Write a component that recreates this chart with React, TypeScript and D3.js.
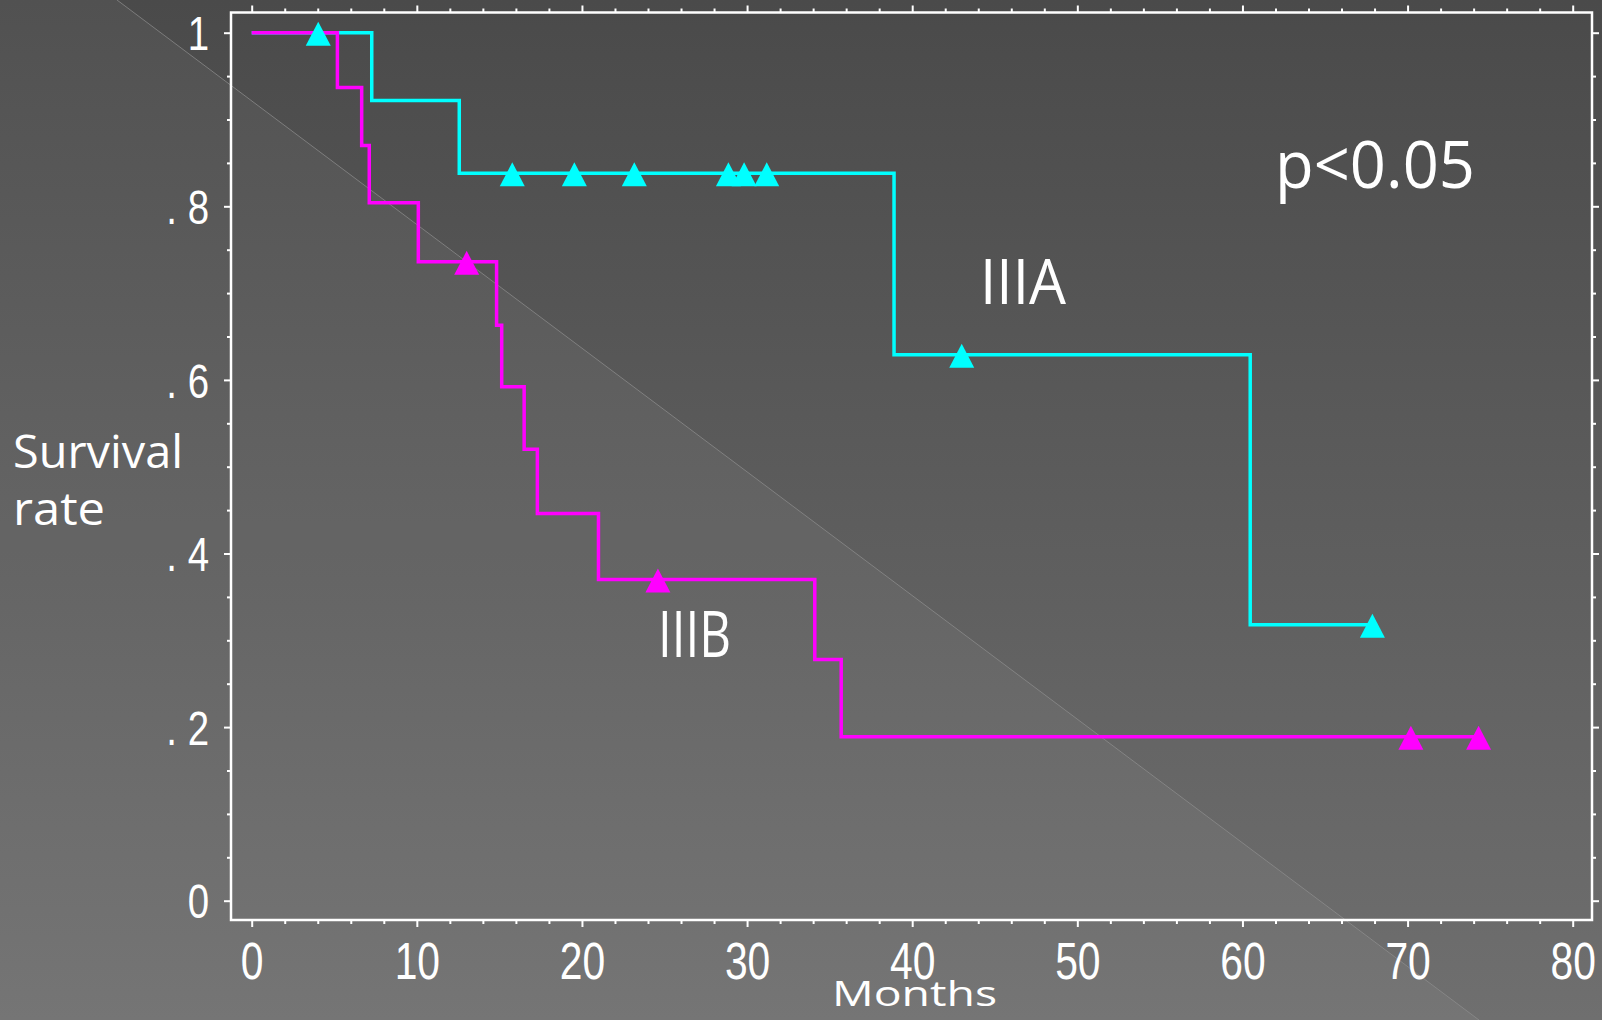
import React, { useEffect, useRef } from 'react'
import * as d3 from 'd3'

// IIIA (cyan) Kaplan-Meier steps
const iiiaMonths = [0, 7.27, 12.57, 38.9, 60.47, 67.87]
const iiiaSurvival = [1, 0.922, 0.838, 0.629, 0.318, 0.318]
const iiiaCensorMonths = [4.03, 15.78, 19.54, 23.17, 28.87, 29.82, 31.19, 43.0, 67.87]
const iiiaCensorSurvival = [1, 0.838, 0.838, 0.838, 0.838, 0.838, 0.838, 0.629, 0.318]

// IIIB (magenta)
const iiibMonths = [0, 5.19, 6.66, 7.12, 10.09, 14.83, 15.14, 16.5, 17.3, 21.0, 34.1, 35.7, 74.3]
const iiibSurvival = [1, 0.937, 0.870, 0.804, 0.736, 0.663, 0.592, 0.520, 0.446, 0.370, 0.278, 0.189, 0.189]
const iiibCensorMonths = [13.02, 24.6, 70.2, 74.3]
const iiibCensorSurvival = [0.736, 0.370, 0.189, 0.189]

const xTicks = [0, 10, 20, 30, 40, 50, 60, 70, 80]
const xMinorTicks = [2, 4, 6, 8, 12, 14, 16, 18, 22, 24, 26, 28, 32, 34, 36, 38, 42, 44, 46, 48, 52, 54, 56, 58, 62, 64, 66, 68, 72, 74, 76, 78]
const yTicks = [0, 0.2, 0.4, 0.6, 0.8, 1]
const yTickLabels = ['0', '. 2', '. 4', '. 6', '. 8', '1']
const yMinorTicks = [0.05, 0.1, 0.15, 0.25, 0.3, 0.35, 0.45, 0.5, 0.55, 0.65, 0.7, 0.75, 0.85, 0.9, 0.95]

const W = 1602
const H = 1020
const frame = { left: 231, right: 1592, top: 12.5, bottom: 920 }
const narrow = '"Liberation Sans", Arial, sans-serif'
const squeeze = 0.8
const gothic = '"Open Sans", "Noto Sans", sans-serif'

function App() {
    const svgRef = useRef<SVGSVGElement>(null)

    useEffect(() => {
        const svg = d3.select(svgRef.current)
        svg.selectAll('*').remove()

        const x = d3.scaleLinear().domain([0, 80]).range([251.7, 1572.7])
        const y = d3.scaleLinear().domain([0, 1]).range([900.7, 32.7])

        // background
        const defs = svg.append('defs')
        const grad = defs.append('linearGradient')
            .attr('id', 'bg').attr('x1', 0).attr('y1', 0).attr('x2', 0).attr('y2', 1)
        grad.append('stop').attr('offset', '0%').attr('stop-color', '#4a4a4a')
        grad.append('stop').attr('offset', '100%').attr('stop-color', '#6f6f6f')
        svg.append('rect').attr('width', W).attr('height', H).attr('fill', 'url(#bg)')
        svg.append('polygon')
            .attr('points', `0,0 117,0 1479,${H} 0,${H}`)
            .attr('fill', '#ffffff').attr('opacity', 0.045)
        svg.append('line')
            .attr('x1', 117).attr('y1', 0).attr('x2', 1479).attr('y2', H)
            .attr('stroke', '#909090').attr('stroke-width', 1).attr('opacity', 0.7)

        // axes
        const styleAxis = (g: any) => {
            g.select('.domain').remove()
            g.selectAll('line').attr('stroke', '#ffffff').attr('stroke-width', 2)
            g.attr('font-size', null).attr('font-family', null)
        }
        const bottom = svg.append('g').attr('transform', `translate(0,${frame.bottom})`)
        bottom.append('g').call(d3.axisBottom(x).tickValues(xMinorTicks).tickSize(4).tickFormat(() => '')).call(styleAxis)
        const bMajor = bottom.append('g').call(d3.axisBottom(x).tickValues(xTicks).tickSize(7).tickPadding(16).tickFormat(d3.format('d'))).call(styleAxis)
        bMajor.selectAll('text').attr('fill', '#ffffff')
            .attr('transform', `scale(${squeeze},1)`)
            .style('font-family', narrow).style('font-size', '51px')

        const top = svg.append('g').attr('transform', `translate(0,${frame.top})`)
        top.append('g').call(d3.axisTop(x).tickValues(xMinorTicks).tickSize(4).tickFormat(() => '')).call(styleAxis)
        top.append('g').call(d3.axisTop(x).tickValues(xTicks).tickSize(7).tickFormat(() => '')).call(styleAxis)

        const left = svg.append('g').attr('transform', `translate(${frame.left},0)`)
        left.append('g').call(d3.axisLeft(y).tickValues(yMinorTicks).tickSize(4).tickFormat(() => '')).call(styleAxis)
        const lMajor = left.append('g').call(d3.axisLeft(y).tickValues(yTicks).tickSize(7).tickPadding(15)
            .tickFormat((d, i) => yTickLabels[i])).call(styleAxis)
        lMajor.selectAll('text').attr('fill', '#ffffff').attr('dy', '0.36em')
            .attr('x', -22 / squeeze)
            .attr('transform', `scale(${squeeze},1)`)
            .style('font-family', narrow).style('font-size', '48px')
            .style('white-space', 'pre')

        const right = svg.append('g').attr('transform', `translate(${frame.right},0)`)
        right.append('g').call(d3.axisRight(y).tickValues(yMinorTicks).tickSize(4).tickFormat(() => '')).call(styleAxis)
        right.append('g').call(d3.axisRight(y).tickValues(yTicks).tickSize(7).tickFormat(() => '')).call(styleAxis)

        svg.append('rect')
            .attr('x', frame.left).attr('y', frame.top)
            .attr('width', frame.right - frame.left).attr('height', frame.bottom - frame.top)
            .attr('fill', 'none').attr('stroke', '#ffffff').attr('stroke-width', 2.5)

        // curves
        const line = d3.line<[number, number]>()
            .x(d => x(d[0])).y(d => y(d[1]))
            .curve(d3.curveStepAfter)

        const iiia = iiiaMonths.map((m, i) => [m, iiiaSurvival[i]] as [number, number])
        const iiib = iiibMonths.map((m, i) => [m, iiibSurvival[i]] as [number, number])

        svg.append('path').attr('d', line(iiia)).attr('fill', 'none')
            .attr('stroke', '#00ffff').attr('stroke-width', 3.5)
        svg.append('path').attr('d', line(iiib)).attr('fill', 'none')
            .attr('stroke', '#ff00ff').attr('stroke-width', 3.5)

        const tri = 'M0,-11L12.5,13L-12.5,13Z'
        svg.selectAll('.cen-a')
            .data(iiiaCensorMonths.map((m, i) => [m, iiiaCensorSurvival[i]]))
            .enter().append('path')
            .attr('class', 'cen-a')
            .attr('d', tri)
            .attr('transform', d => `translate(${x(d[0])},${y(d[1])})`)
            .attr('fill', '#00ffff')
        svg.selectAll('.cen-b')
            .data(iiibCensorMonths.map((m, i) => [m, iiibCensorSurvival[i]]))
            .enter().append('path')
            .attr('class', 'cen-b')
            .attr('d', tri)
            .attr('transform', d => `translate(${x(d[0])},${y(d[1])})`)
            .attr('fill', '#ff00ff')

        // texts
        const label = (t: string, tx: number, ty: number, size: number, len: number) => {
            svg.append('text')
                .attr('x', tx).attr('y', ty)
                .attr('textLength', len).attr('lengthAdjust', 'spacingAndGlyphs')
                .attr('fill', '#ffffff')
                .style('font-family', gothic).style('font-size', `${size}px`)
                .text(t)
        }
        label('Survival', 13, 468, 46, 170)
        label('rate', 13, 525, 46, 92)
        label('Months', 832, 1006, 34, 165)
        label('IIIA', 980, 304, 63, 86)
        label('IIIB', 658, 657, 64, 73)
        label('p<0.05', 1275, 188, 66, 200)
    }, [])

    return (
        <div style={{ position: 'fixed', left: 0, top: 0, width: W, height: H }}>
            <svg ref={svgRef} width={W} height={H} style={{ display: 'block' }} />
        </div>
    )
}

export default App
